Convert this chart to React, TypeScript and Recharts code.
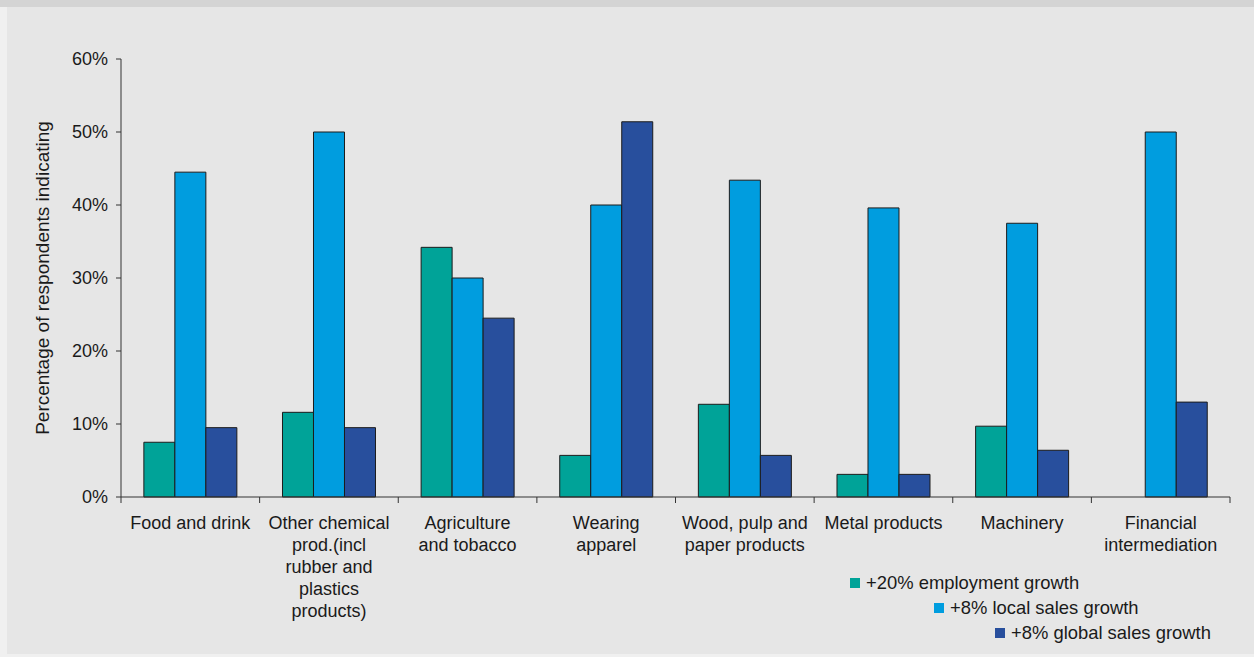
import React from 'react';
import { BarChart, Bar, XAxis, YAxis, Legend, Label } from 'recharts';

const categories = [
  'Food and drink',
  'Other chemical\nprod.(incl\nrubber and\nplastics\nproducts)',
  'Agriculture\nand tobacco',
  'Wearing\napparel',
  'Wood, pulp and\npaper products',
  'Metal products',
  'Machinery',
  'Financial\nintermediation',
];
const employment = [7.5, 11.6, 34.2, 5.7, 12.7, 3.1, 9.7, 0];
const localSales = [44.5, 50, 30, 40, 43.4, 39.6, 37.5, 50];
const globalSales = [9.5, 9.5, 24.5, 51.4, 5.7, 3.1, 6.4, 13];
const yTicks = [0, 10, 20, 30, 40, 50, 60];

const seriesNames = ['+20% employment growth', '+8% local sales growth', '+8% global sales growth'];
const seriesColors = ['#00a398', '#009ddf', '#284f9d'];

const data = categories.map((name, i) => ({
  name,
  employment: employment[i],
  local: localSales[i],
  global: globalSales[i],
}));

const FONT = '"Liberation Sans", Arial, sans-serif';
const INK = '#1a1a1a';
const AXIS = '#333';

const CategoryTick = (props: any) => {
  const { x, y, payload, index } = props;
  const half = payload.offset ?? 0;
  const lines = String(payload.value).split('\n');
  const isLast = index === categories.length - 1;
  return (
    <g>
      <line x1={x - half} x2={x - half} y1={y} y2={y + 6} stroke={AXIS} />
      {isLast && <line x1={x + half} x2={x + half} y1={y} y2={y + 6} stroke={AXIS} />}
      <text x={x} y={y + 32} textAnchor="middle" fontFamily={FONT} fontSize={18} fill={INK}>
        {lines.map((l, i) => (
          <tspan key={i} x={x} dy={i === 0 ? 0 : 22}>
            {l}
          </tspan>
        ))}
      </text>
    </g>
  );
};

const YLabel = (props: any) => {
  const { viewBox } = props;
  const cx = viewBox.x + 11;
  const cy = viewBox.y + viewBox.height / 2;
  return (
    <text
      x={cx}
      y={cy}
      transform={`rotate(-90 ${cx} ${cy})`}
      textAnchor="middle"
      dominantBaseline="central"
      fontFamily={FONT}
      fontSize={19}
      fill={INK}
    >
      Percentage of respondents indicating
    </text>
  );
};

// staggered legend like the original
const legendIndent = [0, 84, 145];

const renderLegend = () => (
  <div style={{ fontFamily: FONT, fontSize: 18.4, color: INK }}>
    {seriesNames.map((n, i) => (
      <div
        key={n}
        style={{ display: 'flex', alignItems: 'center', height: 25, paddingLeft: legendIndent[i], whiteSpace: 'nowrap' }}
      >
        <span style={{ display: 'inline-block', width: 10, height: 10, background: seriesColors[i], marginRight: 6 }} />
        <span>{n}</span>
      </div>
    ))}
  </div>
);

export default function App() {
  return (
    <div style={{ position: 'absolute', left: 0, top: 0, width: 1254, height: 657, background: '#f0f0f0' }}>
      <div style={{ position: 'absolute', left: 0, top: 0, width: 1254, height: 7, background: '#d4d4d4' }} />
      <div style={{ position: 'absolute', left: 7, top: 7, width: 1247, height: 647, background: '#e6e6e6' }} />
      <div style={{ position: 'absolute', left: 0, top: 0 }}>
        <BarChart
          width={1254}
          height={657}
          data={data}
          margin={{ top: 59, right: 24, bottom: 0, left: 31 }}
          barCategoryGap="16.5%"
          barGap={0}
        >
          <XAxis
            dataKey="name"
            interval={0}
            tickLine={false}
            tickSize={0}
            tickMargin={0}
            height={160}
            axisLine={{ stroke: AXIS }}
            tick={<CategoryTick />}
          />
          <YAxis
            width={90}
            domain={[0, 60]}
            ticks={yTicks}
            interval={0}
            tickSize={5}
            tickMargin={8}
            tickFormatter={(v) => `${v}%`}
            axisLine={{ stroke: AXIS }}
            tickLine={{ stroke: AXIS }}
            tick={{ fill: INK, fontSize: 18, fontFamily: FONT }}
          >
            <Label content={<YLabel />} />
          </YAxis>
          <Legend
            layout="horizontal"
            verticalAlign="middle"
            content={renderLegend}
            wrapperStyle={{ left: 850, top: 570, width: 400 }}
          />
          <Bar dataKey="employment" name={seriesNames[0]} fill={seriesColors[0]} stroke="#1c1c1c" strokeWidth={1} isAnimationActive={false} />
          <Bar dataKey="local" name={seriesNames[1]} fill={seriesColors[1]} stroke="#1c1c1c" strokeWidth={1} isAnimationActive={false} />
          <Bar dataKey="global" name={seriesNames[2]} fill={seriesColors[2]} stroke="#1c1c1c" strokeWidth={1} isAnimationActive={false} />
        </BarChart>
      </div>
    </div>
  );
}
